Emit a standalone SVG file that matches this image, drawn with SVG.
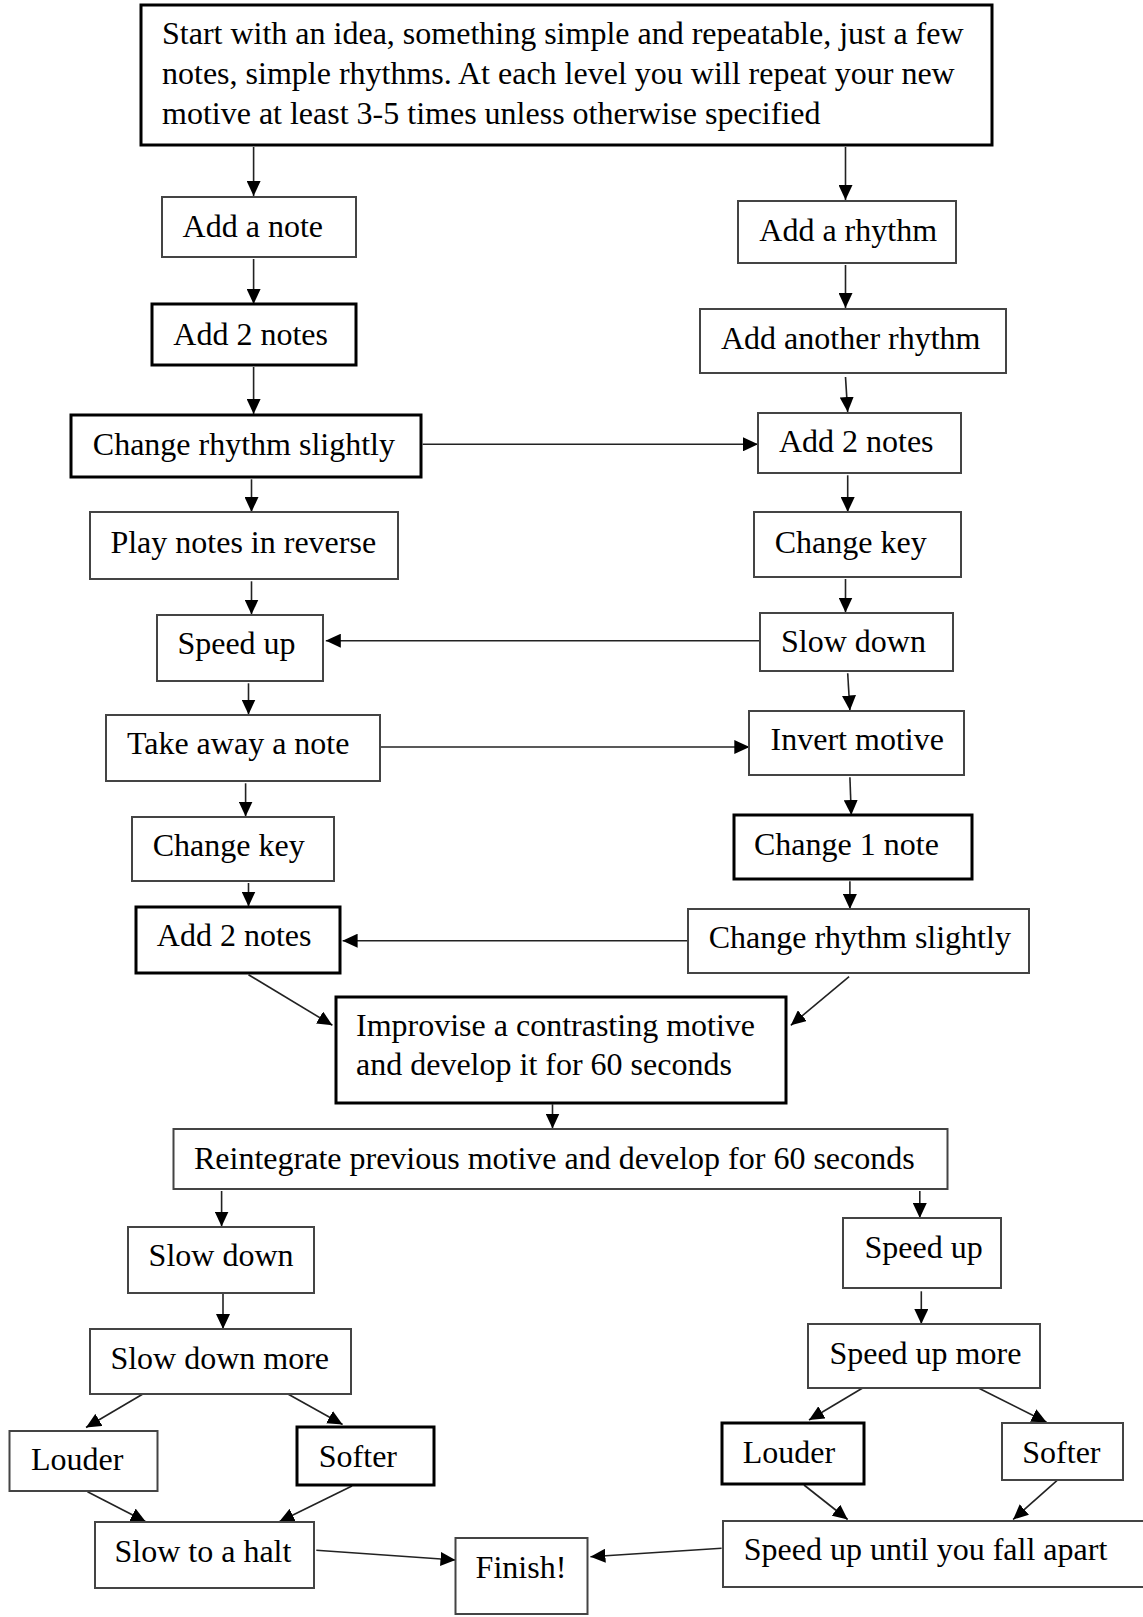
<svg xmlns="http://www.w3.org/2000/svg" width="1143" height="1617" viewBox="0 0 1143 1617">
<style>
rect{fill:#fff}
.n{stroke:#444;stroke-width:2}
.k{stroke:#000;stroke-width:3}
text{font-family:"Liberation Serif","Times New Roman",serif;font-size:32px;fill:#000}
#connectors line{stroke:#222;stroke-width:1.6;marker-end:url(#ah)}
</style>
<defs>
<marker id="ah" markerUnits="userSpaceOnUse" markerWidth="15" markerHeight="14" refX="15" refY="7" orient="auto">
<path d="M0,0 L15,7 L0,14 z" fill="#000"/>
</marker>
</defs>
<rect width="1143" height="1617" fill="#fff"/>
<g id="connectors">
<line x1="253.6" y1="147" x2="253.6" y2="196"/>
<line x1="845.5" y1="147" x2="845.5" y2="200"/>
<line x1="253.6" y1="259" x2="253.6" y2="304"/>
<line x1="845.5" y1="265" x2="845.5" y2="308"/>
<line x1="253.6" y1="367" x2="253.6" y2="414"/>
<line x1="845.5" y1="377" x2="847.7" y2="412"/>
<line x1="422.7" y1="444.3" x2="758" y2="444.3"/>
<line x1="251.5" y1="479.3" x2="251.5" y2="512"/>
<line x1="847.7" y1="475.3" x2="847.7" y2="512"/>
<line x1="251.5" y1="581.3" x2="251.5" y2="614.5"/>
<line x1="845.5" y1="579" x2="845.5" y2="612.5"/>
<line x1="760.2" y1="640.7" x2="325.8" y2="640.7"/>
<line x1="248.5" y1="683.3" x2="248.5" y2="714.5"/>
<line x1="847.7" y1="673.3" x2="849.9" y2="710.5"/>
<line x1="379.7" y1="747" x2="749.3" y2="747"/>
<line x1="245.6" y1="783.3" x2="245.6" y2="816.5"/>
<line x1="849.9" y1="777.3" x2="851.3" y2="815"/>
<line x1="248.5" y1="883" x2="248.5" y2="906.5"/>
<line x1="849.9" y1="881.3" x2="849.9" y2="909"/>
<line x1="688" y1="940.7" x2="342.6" y2="940.7"/>
<line x1="248.5" y1="974.7" x2="332.4" y2="1025.3"/>
<line x1="849.1" y1="976.7" x2="790.8" y2="1025.3"/>
<line x1="552.5" y1="1104.3" x2="552.5" y2="1128.5"/>
<line x1="221.6" y1="1191" x2="221.6" y2="1226.5"/>
<line x1="919.8" y1="1191" x2="919.8" y2="1218"/>
<line x1="223" y1="1293.3" x2="223" y2="1329"/>
<line x1="921.3" y1="1291.3" x2="921.3" y2="1324"/>
<line x1="142.9" y1="1394" x2="86" y2="1427.5"/>
<line x1="287.9" y1="1394" x2="342.6" y2="1424.5"/>
<line x1="87.5" y1="1491.7" x2="145.8" y2="1521.7"/>
<line x1="352" y1="1486" x2="279.2" y2="1521.7"/>
<line x1="316.3" y1="1550.3" x2="455.5" y2="1560"/>
<line x1="862.2" y1="1388.3" x2="809" y2="1420"/>
<line x1="978.9" y1="1388.3" x2="1046.6" y2="1422.3"/>
<line x1="804" y1="1485" x2="847.7" y2="1519.5"/>
<line x1="1056.9" y1="1480.7" x2="1013.1" y2="1519.5"/>
<line x1="721.6" y1="1548.3" x2="590.4" y2="1556.7"/>
</g>
<g id="start"><rect class="k" x="141" y="5" width="851" height="140"/>
<text x="162" y="44">Start with an idea, something simple and repeatable, just a few</text>
<text x="162" y="84">notes, simple rhythms. At each level you will repeat your new</text>
<text x="162" y="123.5">motive at least 3-5 times unless otherwise specified</text></g>
<g id="add-note"><rect class="n" x="162" y="197" width="194" height="60"/><text x="182.6" y="237">Add a note</text></g>
<g id="add-rhythm"><rect class="n" x="738" y="201" width="218" height="62"/><text x="759.3" y="241">Add a rhythm</text></g>
<g id="add-2-notes-l"><rect class="k" x="152" y="304" width="204" height="61"/><text x="173.3" y="344.5">Add 2 notes</text></g>
<g id="add-another-rhythm"><rect class="n" x="700" y="309" width="306" height="64"/><text x="721" y="348.5">Add another rhythm</text></g>
<g id="change-rhythm-l"><rect class="k" x="71" y="415" width="350" height="62"/><text x="92.8" y="455">Change rhythm slightly</text></g>
<g id="add-2-notes-r"><rect class="n" x="758" y="413" width="203" height="60"/><text x="778.9" y="452">Add 2 notes</text></g>
<g id="play-reverse"><rect class="n" x="90" y="512" width="308" height="67"/><text x="110.4" y="553">Play notes in reverse</text></g>
<g id="change-key-r"><rect class="n" x="754" y="512" width="207" height="65"/><text x="774.7" y="553">Change key</text></g>
<g id="speed-up-l"><rect class="n" x="157" y="615" width="166" height="66"/><text x="177.4" y="654">Speed up</text></g>
<g id="slow-down-r"><rect class="n" x="760" y="613" width="193" height="58"/><text x="781" y="652">Slow down</text></g>
<g id="take-away"><rect class="n" x="106" y="715" width="274" height="66"/><text x="126.9" y="753.5">Take away a note</text></g>
<g id="invert"><rect class="n" x="749" y="711" width="215" height="64"/><text x="770.6" y="750">Invert motive</text></g>
<g id="change-key-l"><rect class="n" x="132" y="817" width="202" height="64"/><text x="152.7" y="856">Change key</text></g>
<g id="change-1-note"><rect class="k" x="734" y="815" width="238" height="64"/><text x="754" y="855">Change 1 note</text></g>
<g id="add-2-notes-bl"><rect class="k" x="136" y="907" width="204" height="66"/><text x="156.8" y="946">Add 2 notes</text></g>
<g id="change-rhythm-r"><rect class="n" x="688" y="909" width="341" height="64"/><text x="708.7" y="947.5">Change rhythm slightly</text></g>
<g id="improvise"><rect class="k" x="336" y="997" width="450" height="106"/>
<text x="356" y="1036">Improvise a contrasting motive</text>
<text x="356" y="1075">and develop it for 60 seconds</text></g>
<g id="reintegrate"><rect class="n" x="173.5" y="1129" width="774" height="60"/><text x="194" y="1169">Reintegrate previous motive and develop for 60 seconds</text></g>
<g id="slow-down-2"><rect class="n" x="128" y="1227" width="186" height="66"/><text x="148.6" y="1266">Slow down</text></g>
<g id="speed-up-2"><rect class="n" x="843" y="1218" width="158" height="70"/><text x="864.5" y="1257.5">Speed up</text></g>
<g id="slow-down-more"><rect class="n" x="90" y="1329" width="261" height="65"/><text x="110.4" y="1369">Slow down more</text></g>
<g id="speed-up-more"><rect class="n" x="808" y="1324" width="232" height="64"/><text x="829.4" y="1364">Speed up more</text></g>
<g id="louder-l"><rect class="n" x="9.5" y="1431" width="148" height="60"/><text x="31" y="1470">Louder</text></g>
<g id="softer-l"><rect class="k" x="297" y="1427" width="137" height="58"/><text x="318.8" y="1467">Softer</text></g>
<g id="louder-r"><rect class="k" x="722" y="1423" width="142" height="61"/><text x="742.8" y="1463">Louder</text></g>
<g id="softer-r"><rect class="n" x="1002" y="1423" width="121" height="57"/><text x="1022.3" y="1463">Softer</text></g>
<g id="halt"><rect class="n" x="95" y="1522" width="219" height="66"/><text x="114.5" y="1562">Slow to a halt</text></g>
<g id="finish"><rect class="n" x="455.5" y="1538" width="132" height="76"/><text x="475.6" y="1578">Finish!</text></g>
<g id="fall-apart"><rect class="n" x="723" y="1521" width="430" height="66"/><text x="743.8" y="1560">Speed up until you fall apart</text></g>
</svg>
